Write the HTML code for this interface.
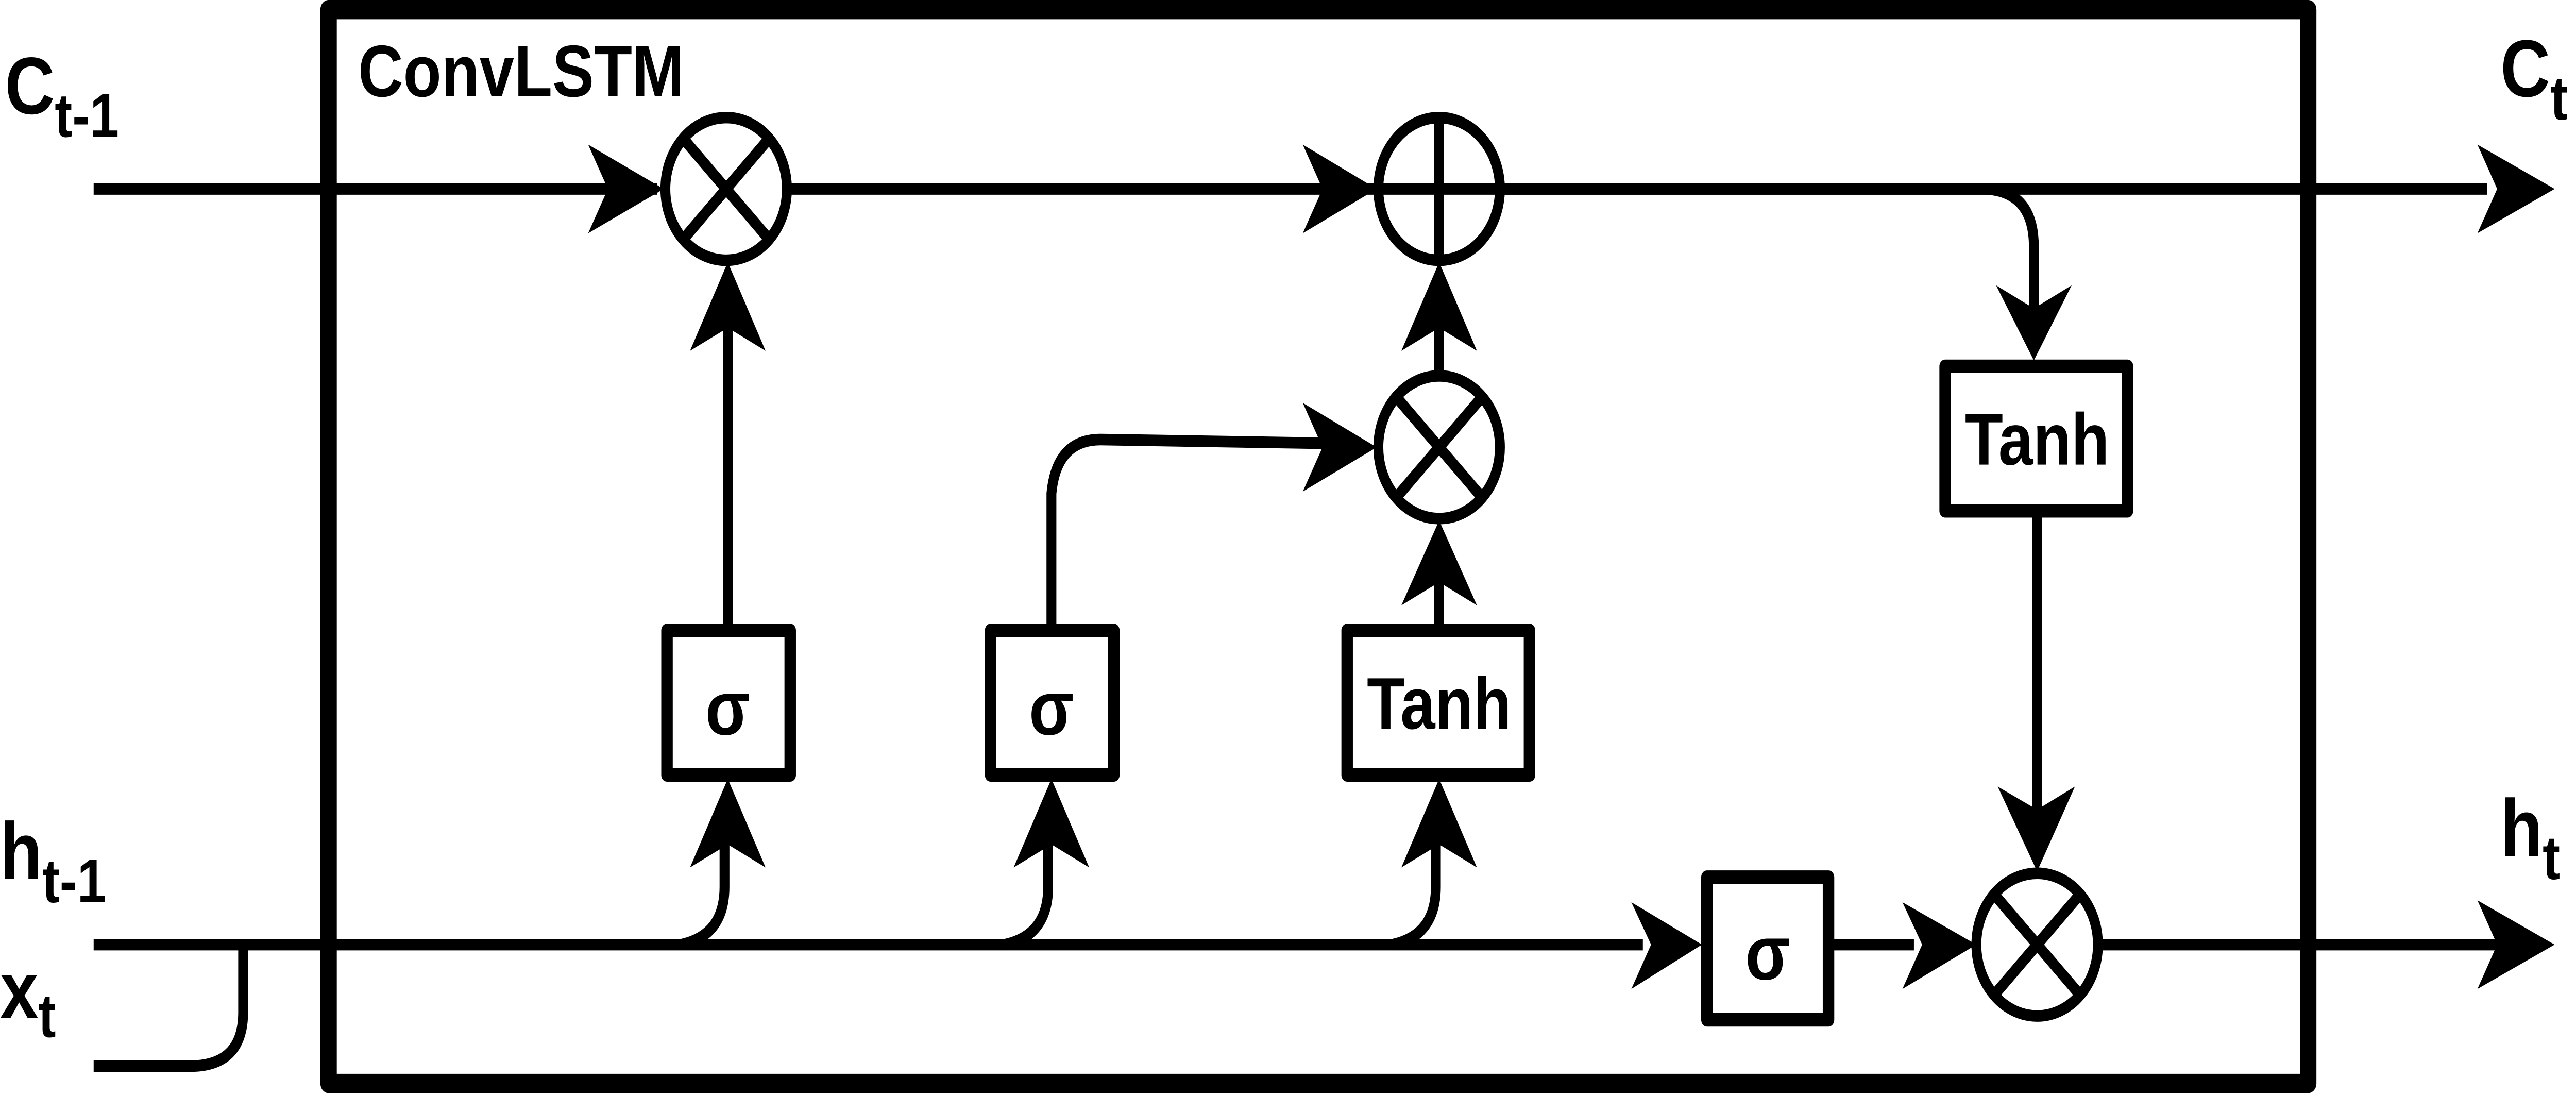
<!DOCTYPE html>
<html><head><meta charset="utf-8"><style>
html,body{margin:0;padding:0;background:#fff;width:100%;height:100%;overflow:hidden}
svg{display:block;width:100vw;height:100vh;position:fixed;left:0;top:0}
</style></head>
<body>
<svg xmlns="http://www.w3.org/2000/svg" viewBox="0 0 1568 568" preserveAspectRatio="none">
<rect width="1568" height="568" fill="#fff"/>
<g fill="none" stroke="#000" stroke-width="6" stroke-linejoin="round">
<rect x="200" y="5" width="1205" height="557" stroke-width="10"/>
<path d="M57 98 H400"/>
<path d="M480 98 H838"/>
<path d="M914 98 H1210 Q1238 100 1238 128 V165"/>
<path d="M1514 98 H914"/>
<path d="M57 490 H1000"/>
<path d="M1115 490 H1165"/>
<path d="M1278 490 H1520"/>
<path d="M57 553 H118 Q148 552 148 525 V490"/>
<path d="M415 490 Q441 485 441 460 V420"/>
<path d="M612 490 Q638 485 638 460 V420"/>
<path d="M848 490 Q874 485 874 460 V420"/>
<path d="M443 324 V160"/>
<path d="M640 324 V256 Q643 228 670 228 L810 230"/>
<path d="M876 324 V290"/>
<path d="M876 194 V160"/>
<path d="M1240 268 V430"/>
<circle cx="442" cy="98" r="37"/>
<path d="M416 72 L468 124 M468 72 L416 124"/>
<circle cx="876" cy="98" r="37"/>
<path d="M876 61 V135 M839 98 H913"/>
<circle cx="876" cy="232" r="37"/>
<path d="M850 206 L902 258 M902 206 L850 258"/>
<circle cx="1240" cy="490" r="37"/>
<path d="M1214 464 L1266 516 M1266 464 L1214 516"/>
<rect x="406" y="327" width="75" height="75" stroke-width="7"/>
<rect x="603" y="327" width="75" height="75" stroke-width="7"/>
<rect x="820" y="327" width="111" height="75" stroke-width="7"/>
<rect x="1039" y="455" width="74" height="74" stroke-width="7"/>
<rect x="1184" y="190" width="111" height="75" stroke-width="7"/>
</g>
<g fill="#000">
<path d="M1555 98 L1508 75 L1520 98 L1508 121 Z"/>
<path d="M1555 490 L1508 467 L1520 490 L1508 513 Z"/>
<path d="M404 98 L358 75 L370 98 L358 121 Z"/>
<path d="M838 98 L793 75 L805 98 L793 121 Z"/>
<path d="M838 232 L793 209 L805 232 L793 255 Z"/>
<path d="M1036 490 L993 468 L1005 490 L993 513 Z"/>
<path d="M1203 490 L1158 468 L1170 490 L1158 513 Z"/>
<path d="M443 404 L420 450 L443 438 L466 450 Z"/>
<path d="M640 404 L617 450 L640 438 L663 450 Z"/>
<path d="M876 404 L853 450 L876 438 L899 450 Z"/>
<path d="M443 136 L420 182 L443 170 L466 182 Z"/>
<path d="M876 136 L853 182 L876 170 L899 182 Z"/>
<path d="M876 270 L853 314 L876 302 L899 314 Z"/>
<path d="M1238 187 L1215 148 L1238 160 L1261 148 Z"/>
<path d="M1240 452 L1216 408 L1240 420 L1263 408 Z"/>
</g>
<g font-family="'Liberation Sans', sans-serif" font-weight="bold" fill="#000">
<text x="218" y="50" font-size="38">ConvLSTM</text>
<text x="443" y="381" font-size="40" text-anchor="middle">σ</text>
<text x="640" y="381" font-size="40" text-anchor="middle">σ</text>
<text x="1076" y="508" font-size="40" text-anchor="middle">σ</text>
<text x="876" y="378" font-size="38" text-anchor="middle">Tanh</text>
<text x="1240" y="241" font-size="38" text-anchor="middle">Tanh</text>
<text x="3" y="59" font-size="42">C<tspan font-size="32" dy="12">t-1</tspan></text>
<text x="1522" y="50" font-size="42">C<tspan font-size="32" dy="12">t</tspan></text>
<text x="0" y="456" font-size="42">h<tspan font-size="32" dy="12">t-1</tspan></text>
<text x="1522" y="444" font-size="42">h<tspan font-size="32" dy="12">t</tspan></text>
<text x="0" y="528" font-size="42">x<tspan font-size="32" dy="10">t</tspan></text>
</g>
</svg>
</body></html>
